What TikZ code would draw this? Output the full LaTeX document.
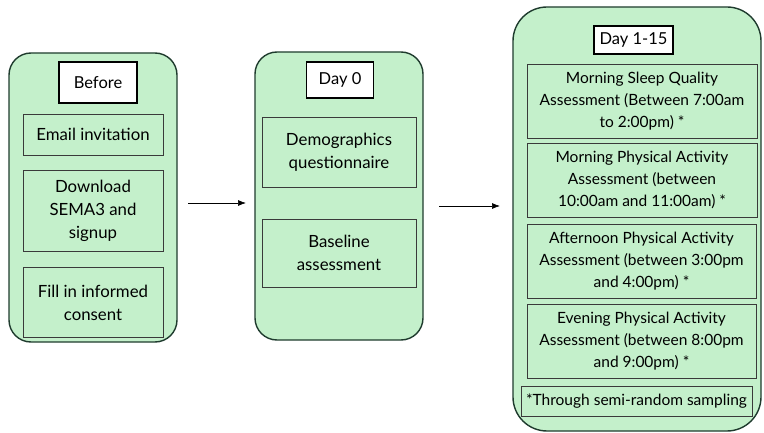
\documentclass[tikz,border=0pt]{standalone}
\usepackage{fontspec}
\setmainfont{Lato}
\usetikzlibrary{arrows.meta}
\definecolor{panelfill}{HTML}{C4F0CB}
\definecolor{panelline}{HTML}{1F3B2E}
\definecolor{boxline}{HTML}{3A3A3A}
\tikzset{
  panel/.style={draw=panelline, line width=1.4pt, fill=panelfill},
  stepbox/.style={draw=boxline, line width=0.8pt, fill=panelfill, inner sep=0pt,
    align=center, font=\fontsize{16.8}{23}\selectfont},
  smallstep/.style={stepbox, font=\fontsize{15.5}{22}\selectfont},
  titlebox/.style={draw=black, line width=1.4pt, fill=white, inner sep=0pt,
    font=\fontsize{16.5}{18}\selectfont},
  flow/.style={-{Latex[length=8pt,width=6pt]}, line width=0.7pt, black}
}
\begin{document}
\begin{tikzpicture}[x=1pt,y=-1pt]
  \useasboundingbox (0,0) rectangle (764,433);
  % columns
  \draw[panel, rounded corners=22pt] (9,53) rectangle (177,342);
  \draw[panel, rounded corners=22pt] (255,52) rectangle (423,340);
  \draw[panel, rounded corners=34pt] (513,7) rectangle (761,431);

  % Before
  \node[titlebox, minimum width=78pt, minimum height=41pt] (tbefore) at (98,82.5) {Before};
  \node[stepbox, minimum width=140pt, minimum height=41pt] (email) at (93,134.5) {Email invitation};
  \node[stepbox, minimum width=140pt, minimum height=81pt] (down) at (93,210.5) {Download\\SEMA3 and\\signup};
  \node[stepbox, minimum width=140pt, minimum height=70pt] (consent) at (93,302.5) {Fill in informed\\consent};

  % Day 0
  \node[titlebox, minimum width=67pt, minimum height=36pt] (tday0) at (340,80) {Day 0};
  \node[stepbox, minimum width=154pt, minimum height=70pt] (demo) at (339,152) {Demographics\\questionnaire};
  \node[stepbox, minimum width=154pt, minimum height=68pt] (base) at (339,253) {Baseline\\assessment};

  % Day 1-15
  \node[titlebox, minimum width=79pt, minimum height=28pt] (tday) at (633.5,40) {Day 1-15};
  \node[smallstep, minimum width=230pt, minimum height=74pt] (sleep) at (642,101) {Morning Sleep Quality\\Assessment (Between 7:00am\\to 2:00pm) *};
  \node[smallstep, minimum width=230pt, minimum height=74pt] (morn) at (642,180) {Morning Physical Activity\\Assessment (between\\10:00am and 11:00am) *};
  \node[smallstep, minimum width=229pt, minimum height=74pt] (after) at (641.5,261) {Afternoon Physical Activity\\Assessment (between 3:00pm\\and 4:00pm) *};
  \node[smallstep, minimum width=229pt, minimum height=74pt] (even) at (641.5,341) {Evening Physical Activity\\Assessment (between 8:00pm\\and 9:00pm) *};
  \node[smallstep, minimum width=231pt, minimum height=30pt] (note) at (636.5,401) {*Through semi-random sampling};

  % arrows between phases
  \coordinate (a1s) at (188,203);
  \coordinate (a1e) at (246,203);
  \coordinate (a2s) at (439,206);
  \coordinate (a2e) at (500,206);
  \draw[flow] (a1s) -- (a1e);
  \draw[flow] (a2s) -- (a2e);
\end{tikzpicture}
\end{document}
